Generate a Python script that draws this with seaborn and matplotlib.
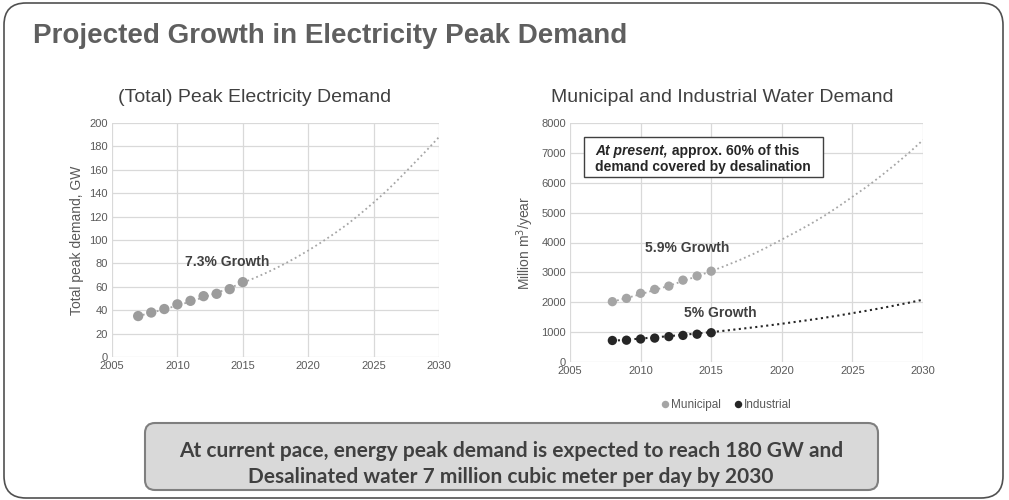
import matplotlib
matplotlib.use("Agg")
import matplotlib.pyplot as plt
from matplotlib.patches import FancyBboxPatch, Rectangle
import pandas as pd
import seaborn as sns

# --- data ---
peak_years = [2007, 2008, 2009, 2010, 2011, 2012, 2013, 2014, 2015]
peak_gw = [35, 38, 41, 45, 48, 52, 54, 58, 64]

peak_trend_years = list(range(2007, 2031))
peak_trend_gw = [35, 37.8, 40.8, 44, 47.4, 51, 54.8, 59, 63.5, 68, 73, 78.5,
                 84.5, 91, 98, 105.5, 113.5, 122.5, 132, 142, 153, 164.5, 176, 188]

water_years = [2008, 2009, 2010, 2011, 2012, 2013, 2014, 2015]
municipal = [2020, 2130, 2300, 2430, 2540, 2740, 2880, 3040]
industrial = [720, 730, 770, 800, 850, 890, 930, 980]

water_trend_years = list(range(2008, 2031))
municipal_trend = [2020, 2140, 2270, 2410, 2550, 2710, 2870, 3040, 3220, 3410, 3620, 3850,
                   4100, 4350, 4610, 4890, 5200, 5530, 5860, 6220, 6600, 7000, 7430]
industrial_trend = [710, 745, 785, 825, 865, 910, 955, 1000, 1050, 1105, 1160, 1220,
                    1280, 1345, 1410, 1480, 1555, 1635, 1715, 1800, 1890, 1985, 2085]

x_ticks = [2005, 2010, 2015, 2020, 2025, 2030]

sns.set_theme(style="whitegrid")
plt.rcParams["font.family"] = ["Liberation Sans", "DejaVu Sans"]

fig = plt.figure(figsize=(10.09, 5.0), dpi=100)
fig.patch.set_facecolor("white")

tick_col = "#595959"
grid_col = "#d9d9d9"


def style_axes(ax, ymax, ystep):
    ax.set_xlim(2005, 2030)
    ax.set_ylim(0, ymax)
    ax.set_xticks(x_ticks)
    ax.set_yticks(range(0, ymax + 1, ystep))
    ax.grid(True, color=grid_col, linewidth=0.9)
    for s in ax.spines.values():
        s.set_visible(False)
    ax.tick_params(axis="both", labelsize=8, colors=tick_col, length=0, pad=3)
    ax.set_xlabel("")


# --- left chart ---
ax1 = fig.add_axes([112 / 1009, 1 - 357 / 500, 327 / 1009, 234 / 500])
sns.lineplot(x=peak_trend_years, y=peak_trend_gw, ax=ax1, color="#a6a6a6",
             linestyle=":", linewidth=1.3)
sns.scatterplot(x=peak_years, y=peak_gw, ax=ax1, color="#9c9c9c", s=55,
                edgecolor="none", zorder=3)
style_axes(ax1, 200, 20)
ax1.set_ylabel("Total peak demand, GW", fontsize=10, color=tick_col, labelpad=4)
ax1.text(2010.6, 81, "7.3% Growth", fontsize=10, fontweight="bold",
         color="#404040", va="center", ha="left")

# --- right chart ---
ax2 = fig.add_axes([570 / 1009, 1 - 362 / 500, 353 / 1009, 239 / 500])
sns.lineplot(x=water_trend_years, y=municipal_trend, ax=ax2, color="#a6a6a6",
             linestyle=":", linewidth=1.3)
sns.lineplot(x=water_trend_years, y=industrial_trend, ax=ax2, color="#262626",
             linestyle=":", linewidth=1.5)
water_df = pd.DataFrame({
    "year": water_years * 2,
    "value": municipal + industrial,
    "kind": ["Municipal"] * len(water_years) + ["Industrial"] * len(water_years),
})
sns.scatterplot(data=water_df, x="year", y="value", hue="kind", ax=ax2,
                palette={"Municipal": "#a5a5a5", "Industrial": "#262626"},
                s=45, edgecolor="none", zorder=3)
style_axes(ax2, 8000, 1000)
ax2.set_ylabel("Million m$^3$/year", fontsize=10, color=tick_col, labelpad=4)
sns.move_legend(ax2, "upper center", bbox_to_anchor=(0.44, -0.11), ncol=2,
                frameon=False, title=None, fontsize=8.5, handletextpad=0.0,
                handlelength=1.0, columnspacing=1.0, markerscale=0.8)
for t in ax2.get_legend().get_texts():
    t.set_color(tick_col)

ax2.text(2010.3, 3800, "5.9% Growth", fontsize=10, fontweight="bold",
         color="#404040", va="center", ha="left")
ax2.text(2013.1, 1640, "5% Growth", fontsize=10, fontweight="bold",
         color="#404040", va="center", ha="left")

ax2.add_patch(Rectangle((0.040, 0.774), 0.677, 0.167, transform=ax2.transAxes,
                        facecolor="white", edgecolor="#404040", linewidth=1.0,
                        zorder=4))
t1 = ax2.text(0.071, 0.883, "At present,", transform=ax2.transAxes, fontsize=10,
              fontweight="bold", fontstyle="italic", color="#262626",
              va="center", ha="left", zorder=5)
ax2.annotate(" approx. 60% of this", xy=(1, 0), xycoords=t1, fontsize=10,
             fontweight="bold", color="#262626", va="bottom", ha="left", zorder=5)
ax2.text(0.071, 0.816, "demand covered by desalination", transform=ax2.transAxes,
         fontsize=10, fontweight="bold", color="#262626", va="center",
         ha="left", zorder=5)

# --- titles ---
fig.text(33 / 1009, 1 - 36 / 500, "Projected Growth in Electricity Peak Demand",
         fontsize=20, fontweight="bold", color="#5f5f5f", va="center", ha="left")
fig.text(255 / 1009, 1 - 97 / 500, "(Total) Peak Electricity Demand",
         fontsize=14, color="#404040", va="center", ha="center")
fig.text(722 / 1009, 1 - 97 / 500, "Municipal and Industrial Water Demand",
         fontsize=14, color="#404040", va="center", ha="center")

# --- outer frame and bottom note ---
fig.patches.append(FancyBboxPatch((0.04, 0.02), 9.99, 4.95,
                                  boxstyle="round,pad=0,rounding_size=0.22",
                                  transform=fig.dpi_scale_trans, facecolor="none",
                                  edgecolor="#505050", linewidth=1.2))
fig.patches.append(FancyBboxPatch((1.45, 0.10), 7.33, 0.67,
                                  boxstyle="round,pad=0,rounding_size=0.1",
                                  transform=fig.dpi_scale_trans, facecolor="#d9d9d9",
                                  edgecolor="#7f7f7f", linewidth=1.5))
fig.text(511 / 1009, 1 - 451 / 500,
         "At current pace, energy peak demand is expected to reach 180 GW and",
         fontsize=15, color="#404040", va="center", ha="center",
         family=["Lato", "DejaVu Sans"], fontweight="bold")
fig.text(511 / 1009, 1 - 477 / 500,
         "Desalinated water 7 million cubic meter per day by 2030",
         fontsize=15, color="#404040", va="center", ha="center",
         family=["Lato", "DejaVu Sans"], fontweight="bold")

fig.savefig("out.png", dpi=100)
